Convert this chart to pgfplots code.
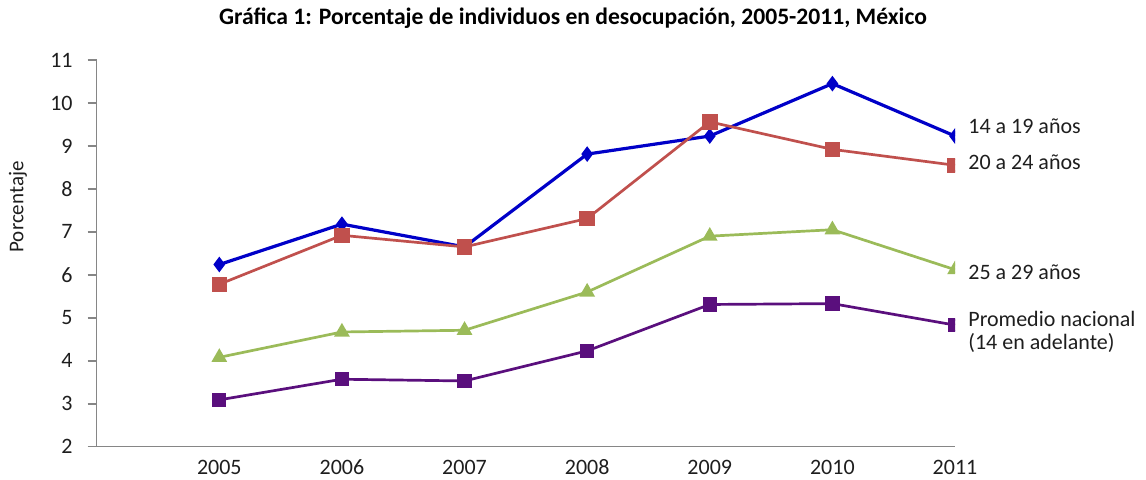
\documentclass[border=0pt]{standalone}
\usepackage{fontspec}
\setmainfont{Carlito}
\usepackage{pgfplots}
\pgfplotsset{compat=1.18}

\definecolor{serA}{RGB}{0,0,200}
\definecolor{serB}{RGB}{192,80,77}
\definecolor{serC}{RGB}{155,187,89}
\definecolor{serD}{RGB}{90,15,125}
\definecolor{axgray}{RGB}{134,134,134}
\definecolor{txt}{RGB}{30,30,30}

\begin{document}
\begin{tikzpicture}
\path[use as bounding box] (-48.35pt,-16.65pt) rectangle (524.65pt,223.35pt);
\begin{axis}[
  at={(0,0)}, anchor=south west,
  scale only axis,
  width=429.15pt, height=193.35pt,
  xmin=2004, xmax=2011,
  ymin=2, ymax=11,
  xtick={2005,2006,2007,2008,2009,2010,2011},
  ytick={2,3,...,11},
  /pgf/number format/assume math mode=true,
  xticklabel={\pgfmathprintnumber[1000 sep={}]{\tick}},
  axis x line=bottom, axis y line=left,
  axis line style={draw=axgray, line width=0.8pt, -},
  tick align=outside,
  ytick style={draw=axgray, line width=0.8pt},
  xtick style={draw=none},
  major tick length=4.5pt,
  tick label style={font=\fontsize{11}{13}\selectfont, text=txt},
  xticklabel style={yshift=1.5pt},
  yticklabel style={xshift=-4pt},
  ylabel={Porcentaje},
  ylabel style={at={(axis description cs:-0.0917,0.62)}, anchor=center, font=\fontsize{10.5}{12}\selectfont, text=txt},
  clip marker paths=true,
]
\addplot[serA, line width=1.6pt, mark=diamond*, mark size=2.6pt] coordinates {
  (2005,6.24) (2006,7.18) (2007,6.65) (2008,8.81) (2009,9.23) (2010,10.45) (2011,9.23)};
\addplot[serB, line width=1.35pt, mark=square*, mark size=3.2pt] coordinates {
  (2005,5.78) (2006,6.92) (2007,6.65) (2008,7.31) (2009,9.56) (2010,8.92) (2011,8.55)};
\addplot[serC, line width=1.35pt, mark=triangle*, mark size=3.2pt] coordinates {
  (2005,4.08) (2006,4.67) (2007,4.71) (2008,5.60) (2009,6.90) (2010,7.05) (2011,6.12)};
\addplot[serD, line width=1.35pt, mark=square*, mark size=2.9pt] coordinates {
  (2005,3.09) (2006,3.57) (2007,3.53) (2008,4.23) (2009,5.31) (2010,5.33) (2011,4.83)};
\coordinate (lA) at (axis cs:2011,9.46);
\coordinate (lB) at (axis cs:2011,8.63);
\coordinate (lC) at (axis cs:2011,6.07);
\coordinate (lD) at (axis cs:2011,4.67);
\end{axis}
\node[anchor=center, inner sep=0pt, font=\fontsize{11.8}{13}\selectfont\bfseries] at (238.15pt,214.35pt)
  {Gráfica 1: Porcentaje de individuos en desocupación, 2005-2011, México};
\begin{scope}[every node/.style={anchor=west, inner sep=0pt, xshift=6.5pt, text=txt, font=\fontsize{11}{11.7}\selectfont}]
\node at (lA) {14 a 19 años};
\node at (lB) {20 a 24 años};
\node at (lC) {25 a 29 años};
\node[align=left] at (lD) {Promedio nacional\\(14 en adelante)};
\end{scope}
\end{tikzpicture}
\end{document}
